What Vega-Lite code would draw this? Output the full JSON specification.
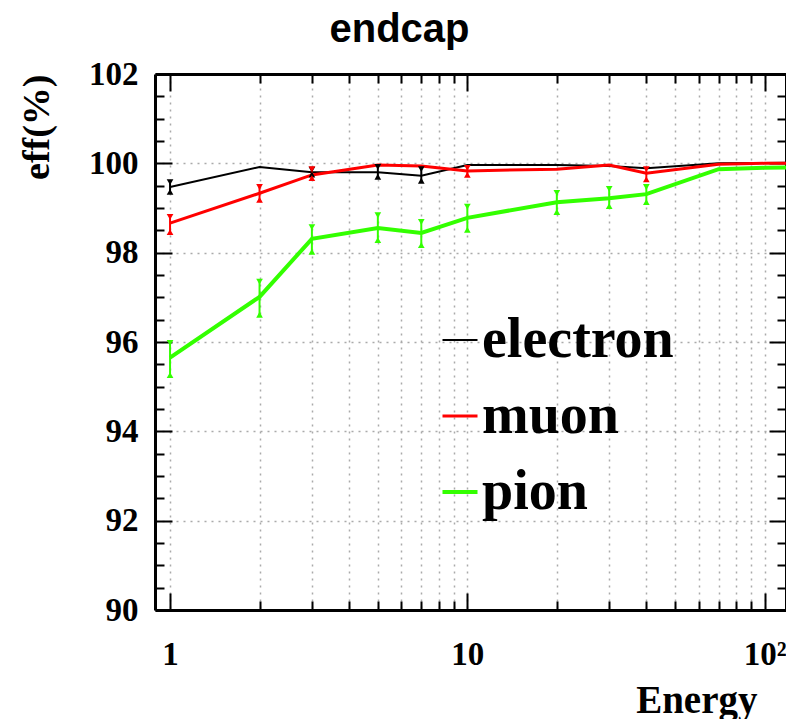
{
  "$schema": "https://vega.github.io/schema/vega-lite/v6.json",
  "width": 631,
  "height": 536,
  "autosize": {"type": "none"},
  "padding": {"left": 155, "top": 74, "right": 0, "bottom": 109},
  "background": "white",
  "title": {"text": "endcap", "font": "Liberation Sans", "fontSize": 40, "fontWeight": "bold", "anchor": "middle", "dx": -71, "offset": 8, "color": "black"},
  "config": {
    "view": {"stroke": null},
    "axis": {"labelFont": "Liberation Serif", "labelFontWeight": "bold", "labelFontSize": 33, "labelColor": "black", "titleFont": "Liberation Serif", "titleFontWeight": "bold", "titleColor": "black", "domainColor": "black", "domainWidth": 3, "tickColor": "black", "tickWidth": 2, "gridColor": "#aaaaaa", "gridDash": [2, 5], "gridWidth": 1.5}
  },
  "data": {"values": [
    {"p": "electron", "e": 1, "v": 99.47, "lo": 99.36, "hi": 99.58},
    {"p": "electron", "e": 2, "v": 99.92, "lo": null, "hi": null},
    {"p": "electron", "e": 3, "v": 99.80, "lo": 99.75, "hi": 99.86},
    {"p": "electron", "e": 5, "v": 99.80, "lo": 99.70, "hi": 99.92},
    {"p": "electron", "e": 7, "v": 99.72, "lo": 99.61, "hi": 99.87},
    {"p": "electron", "e": 10, "v": 99.96, "lo": null, "hi": null},
    {"p": "electron", "e": 20, "v": 99.96, "lo": null, "hi": null},
    {"p": "electron", "e": 30, "v": 99.94, "lo": null, "hi": null},
    {"p": "electron", "e": 40, "v": 99.89, "lo": null, "hi": null},
    {"p": "electron", "e": 70, "v": 100.0, "lo": null, "hi": null},
    {"p": "electron", "e": 100, "v": 100.01, "lo": null, "hi": null},
    {"p": "electron", "e": 150, "v": 100.02, "lo": null, "hi": null},
    {"p": "muon", "e": 1, "v": 98.66, "lo": 98.46, "hi": 98.80},
    {"p": "muon", "e": 2, "v": 99.33, "lo": 99.18, "hi": 99.47},
    {"p": "muon", "e": 3, "v": 99.74, "lo": 99.67, "hi": 99.87},
    {"p": "muon", "e": 5, "v": 99.96, "lo": null, "hi": null},
    {"p": "muon", "e": 7, "v": 99.94, "lo": null, "hi": null},
    {"p": "muon", "e": 10, "v": 99.83, "lo": 99.74, "hi": 99.90},
    {"p": "muon", "e": 20, "v": 99.87, "lo": null, "hi": null},
    {"p": "muon", "e": 30, "v": 99.96, "lo": null, "hi": null},
    {"p": "muon", "e": 40, "v": 99.78, "lo": 99.64, "hi": 99.87},
    {"p": "muon", "e": 70, "v": 99.98, "lo": null, "hi": null},
    {"p": "muon", "e": 100, "v": 100.0, "lo": null, "hi": null},
    {"p": "muon", "e": 150, "v": 100.0, "lo": null, "hi": null},
    {"p": "pion", "e": 1, "v": 95.65, "lo": 95.26, "hi": 95.98},
    {"p": "pion", "e": 2, "v": 97.01, "lo": 96.61, "hi": 97.35},
    {"p": "pion", "e": 3, "v": 98.31, "lo": 98.02, "hi": 98.57},
    {"p": "pion", "e": 5, "v": 98.55, "lo": 98.28, "hi": 98.84},
    {"p": "pion", "e": 7, "v": 98.44, "lo": 98.17, "hi": 98.69},
    {"p": "pion", "e": 10, "v": 98.78, "lo": 98.51, "hi": 99.03},
    {"p": "pion", "e": 20, "v": 99.13, "lo": 98.91, "hi": 99.34},
    {"p": "pion", "e": 30, "v": 99.22, "lo": 99.04, "hi": 99.43},
    {"p": "pion", "e": 40, "v": 99.31, "lo": 99.13, "hi": 99.47},
    {"p": "pion", "e": 70, "v": 99.87, "lo": null, "hi": null},
    {"p": "pion", "e": 100, "v": 99.90, "lo": null, "hi": null},
    {"p": "pion", "e": 150, "v": 99.92, "lo": null, "hi": null}
  ]},
  "resolve": {"axis": {"x": "independent", "y": "independent"}},
  "layer": [
    {
      "mark": {"type": "line", "clip": true},
      "encoding": {
        "x": {"field": "e", "type": "quantitative", "scale": {"type": "log", "domain": [0.89, 118], "nice": false},
          "axis": {"orient": "bottom", "values": [1, 10, 100], "ticks": false, "labelPadding": 28, "labelExpr": "datum.value >= 100 ? '10²' : format(datum.value, 'd')", "grid": true, "title": "Energy", "titleFontSize": 39, "titleX": 602, "titleY": 102, "titleAlign": "right", "titleBaseline": "alphabetic", "labelFlush": false}},
        "y": {"field": "v", "type": "quantitative", "scale": {"domain": [90, 102], "nice": false, "zero": false},
          "axis": {"orient": "left", "values": [90, 92, 94, 96, 98, 100, 102], "ticks": false, "labelPadding": 17, "grid": true, "title": "eff(%)", "titleFontSize": 38, "titleAngle": -90, "titleAlign": "right", "titleBaseline": "middle", "titleX": -118, "titleY": 0, "labelFlush": false}},
        "color": {"field": "p", "type": "nominal", "scale": {"domain": ["electron", "muon", "pion"], "range": ["#000000", "#ff0000", "#33ff00"]},
          "legend": {"title": null, "orient": "none", "legendX": 277, "legendY": 238, "symbolType": "stroke", "symbolSize": 1225, "labelFont": "Liberation Serif", "labelFontWeight": "bold", "labelFontSize": 56, "labelColor": "black", "labelOffset": -6, "labelLimit": 0, "rowPadding": 20}},
        "strokeWidth": {"field": "p", "type": "nominal", "scale": {"domain": ["electron", "muon", "pion"], "range": [2, 4, 4]}, "legend": {"title": null, "orient": "none", "legendX": 277, "legendY": 238, "symbolType": "stroke", "symbolSize": 1225, "labelFont": "Liberation Serif", "labelFontWeight": "bold", "labelFontSize": 56, "labelColor": "black", "labelOffset": -6, "labelLimit": 0, "rowPadding": 20}}
      }
    },
    {
      "transform": [{"filter": "datum.lo != null"}],
      "mark": {"type": "rule", "strokeWidth": 2},
      "encoding": {
        "x": {"field": "e", "type": "quantitative", "axis": {"orient": "bottom", "values": [1, 10, 100], "tickSize": -17, "labels": false, "grid": false, "domain": false, "title": null}},
        "y": {"field": "lo", "type": "quantitative", "axis": {"orient": "left", "values": [90, 92, 94, 96, 98, 100, 102], "tickSize": -17, "labels": false, "grid": false, "domain": false, "title": null}},
        "y2": {"field": "hi"},
        "color": {"field": "p", "type": "nominal"}
      }
    },
    {
      "transform": [{"filter": "datum.lo != null"}],
      "mark": {"type": "point", "shape": "triangle-down", "filled": true, "size": 45, "opacity": 1},
      "encoding": {
        "x": {"field": "e", "type": "quantitative", "axis": {"orient": "bottom", "values": [2, 3, 4, 5, 6, 7, 8, 9, 20, 30, 40, 50, 60, 70, 80, 90], "tickSize": -9, "labels": false, "grid": true, "domain": false, "title": null}},
        "y": {"field": "hi", "type": "quantitative", "axis": {"orient": "left", "values": [90.5, 91, 91.5, 92.5, 93, 93.5, 94.5, 95, 95.5, 96.5, 97, 97.5, 98.5, 99, 99.5, 100.5, 101, 101.5], "tickSize": -9, "labels": false, "grid": false, "domain": false, "title": null}},
        "color": {"field": "p", "type": "nominal"}
      }
    },
    {
      "transform": [{"filter": "datum.lo != null"}],
      "mark": {"type": "point", "shape": "triangle-up", "filled": true, "size": 45, "opacity": 1},
      "encoding": {
        "x": {"field": "e", "type": "quantitative", "axis": {"orient": "top", "values": [1, 10, 100], "tickSize": -17, "labels": false, "grid": false, "domain": true, "title": null}},
        "y": {"field": "lo", "type": "quantitative", "axis": {"orient": "right", "values": [90, 92, 94, 96, 98, 100, 102], "tickSize": -17, "labels": false, "grid": false, "domain": true, "title": null}},
        "color": {"field": "p", "type": "nominal"}
      }
    },
    {
      "mark": {"type": "point", "opacity": 0},
      "encoding": {
        "x": {"field": "e", "type": "quantitative", "axis": {"orient": "top", "values": [2, 3, 4, 5, 6, 7, 8, 9, 20, 30, 40, 50, 60, 70, 80, 90], "tickSize": -9, "labels": false, "grid": false, "domain": false, "title": null}},
        "y": {"field": "v", "type": "quantitative", "axis": {"orient": "right", "values": [90.5, 91, 91.5, 92.5, 93, 93.5, 94.5, 95, 95.5, 96.5, 97, 97.5, 98.5, 99, 99.5, 100.5, 101, 101.5], "tickSize": -9, "labels": false, "grid": false, "domain": false, "title": null}}
      }
    }
  ]
}
